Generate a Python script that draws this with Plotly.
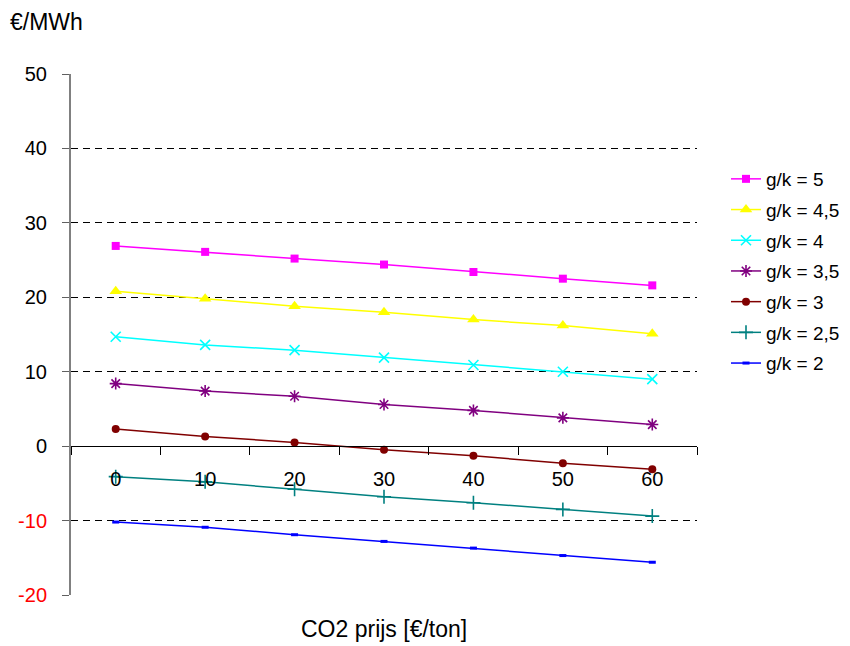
import plotly.graph_objects as go

co2_prices = ["0", "10", "20", "30", "40", "50", "60"]
series_names = ["g/k = 5", "g/k = 4,5", "g/k = 4", "g/k = 3,5", "g/k = 3", "g/k = 2,5", "g/k = 2"]
gk5 = [26.9, 26.1, 25.2, 24.4, 23.4, 22.5, 21.6]
gk45 = [20.8, 19.8, 18.8, 18.0, 17.0, 16.2, 15.1]
gk4 = [14.7, 13.6, 12.9, 11.9, 10.9, 10.0, 9.0]
gk35 = [8.4, 7.4, 6.7, 5.6, 4.8, 3.8, 2.9]
gk3 = [2.3, 1.3, 0.5, -0.5, -1.3, -2.3, -3.1]
gk25 = [-4.1, -4.8, -5.8, -6.8, -7.6, -8.5, -9.4]
gk2 = [-10.2, -10.9, -11.9, -12.8, -13.7, -14.7, -15.6]
y_ticks = [-20, -10, 0, 10, 20, 30, 40, 50]

series_values = [gk5, gk45, gk4, gk35, gk3, gk25, gk2]
styles = [
    dict(color="#FF00FF", symbol="square", size=8, lw=0),
    dict(color="#FFFF00", symbol="triangle-up", size=11, lw=0),
    dict(color="#00FFFF", symbol="x-thin-open", size=10, lw=1.6),
    dict(color="#800080", symbol="asterisk-open", size=10, lw=1.6),
    dict(color="#800000", symbol="circle", size=8, lw=0),
    dict(color="#008080", symbol="cross-thin-open", size=10, lw=1.6),
    dict(color="#0000FF", symbol="line-ew-open", size=5, lw=3),
]

FONT = "Arial, Liberation Sans, sans-serif"

fig = go.Figure()
for name, vals, st in zip(series_names, series_values, styles):
    fig.add_trace(go.Scatter(
        x=co2_prices, y=vals, name=name, mode="lines+markers",
        legendgroup=name,
        line=dict(color=st["color"], width=1.5),
        marker=dict(symbol=st["symbol"], size=st["size"], color=st["color"],
                    line=dict(width=st["lw"], color=st["color"])),
    ))

ticktext = [f"<span style='color:#FF0000'>{v}</span>" if v < 0 else str(v) for v in y_ticks]

fig.update_layout(
    width=850, height=646,
    margin=dict(l=71, r=153, t=74, b=51),
    paper_bgcolor="white", plot_bgcolor="white",
    font=dict(family=FONT, size=20, color="black"),
    showlegend=True,
    legend=dict(
        xref="container", yref="container",
        x=726 / 850, y=1 - 160 / 646, xanchor="left", yanchor="top",
        font=dict(size=19, color="black"),
        tracegroupgap=3, bgcolor="rgba(0,0,0,0)",
    ),
    xaxis=dict(
        type="category", anchor="free", position=20 / 70,
        range=[-0.5, 6.5],
        showline=True, linecolor="black", linewidth=1,
        ticks="outside", tickson="boundaries", ticklen=8, tickcolor="black",
        showgrid=False, zeroline=False,
        ticklabelstandoff=15,
        tickfont=dict(size=20, color="black"),
    ),
    yaxis=dict(
        range=[-20, 50], tickvals=y_ticks, ticktext=ticktext,
        showgrid=True, gridcolor="#000000", gridwidth=1, griddash="7px,5px",
        zeroline=False,
        showline=True, linecolor="#808080", linewidth=2,
        ticks="outside", ticklen=7, tickcolor="#606060",
        ticklabelstandoff=11,
        tickfont=dict(size=20, color="black"),
    ),
    annotations=[
        dict(text="€/MWh", xref="paper", yref="paper", x=-71 / 626, y=1 + 52 / 521,
             xanchor="left", yanchor="middle", showarrow=False, xshift=8,
             font=dict(size=23, color="black")),
        dict(text="CO2 prijs [€/ton]", xref="paper", yref="paper", x=(384 - 71) / 626,
             y=-(629 - 595) / 521, xanchor="center", yanchor="middle", showarrow=False,
             font=dict(size=23, color="black")),
    ],
)

fig.write_html("out.html", config={"displayModeBar": False},
               post_script="document.body.style.margin='0';document.body.style.overflow='hidden';")
